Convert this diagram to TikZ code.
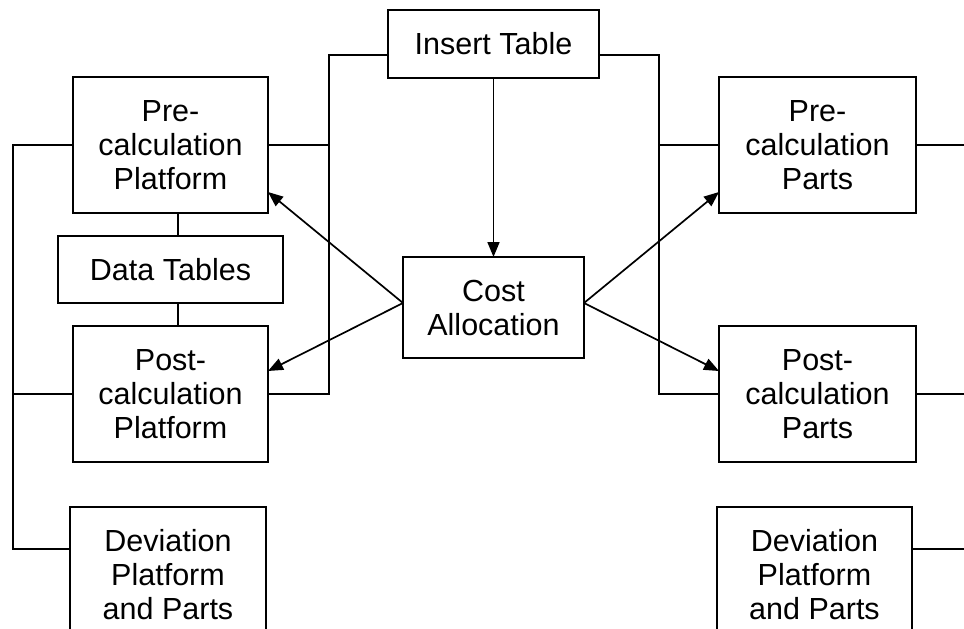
\documentclass[tikz,border=0pt]{standalone}
\usepackage{fontspec}
\setmainfont{Liberation Sans}
\usetikzlibrary{arrows.meta}
\begin{document}
\begin{tikzpicture}[x=1pt,y=-1pt,
  box/.style={draw,line width=1.7pt,inner sep=0pt,outer sep=0pt,align=center,
    font=\fontsize{30.5}{34}\selectfont},
  bigbox/.style={box,minimum width=196pt,minimum height=136pt},
  link/.style={line width=1.7pt},
  arr/.style={line width=1.7pt,-{Triangle[length=15pt,width=12pt]}}]
\clip (0,0) rectangle (964,629);
\fill[white] (0,0) rectangle (964,629);
% nodes
\node[box,minimum width=211pt,minimum height=68pt] (ins) at (493.5,44) {Insert Table};
\node[bigbox,minimum width=195pt] (preP) at (170.5,145) {Pre-\\calculation\\Platform};
\node[box,minimum width=225pt,minimum height=67pt] (data) at (170.5,269.5) {Data Tables};
\node[bigbox,minimum width=195pt] (postP) at (170.5,394) {Post-\\calculation\\Platform};
\node[bigbox] (devL) at (168,575) {Deviation\\Platform\\and Parts};
\node[box,minimum width=181pt,minimum height=101pt] (cost) at (493.5,307.5) {Cost\\Allocation};
\node[bigbox,minimum width=197pt] (preR) at (817.5,145) {Pre-\\calculation\\Parts};
\node[bigbox,minimum width=197pt] (postR) at (817.5,394) {Post-\\calculation\\Parts};
\node[bigbox,minimum width=195pt] (devR) at (814.5,575) {Deviation\\Platform\\and Parts};
% helper coordinates
\coordinate (lt) at (13,145);
\coordinate (lb) at (13,549);
\coordinate (it) at (329,55);
\coordinate (rt) at (659,55);
\coordinate (dx) at (178,0);
\coordinate (edge) at (964,0);
\coordinate (ydev) at (0,549);
\coordinate (yhi) at (0,192);
\coordinate (ylo) at (0,371);
\coordinate (ystart) at (0,303);
% left bus
\draw[link] (preP.west) -- (lt) -- (lb) -- (lb -| devL.west);
\draw[link] (postP.west) -- (postP.west -| lt);
% data tables links
\draw[link] (preP.south -| dx) -- (data.north -| dx);
\draw[link] (data.south -| dx) -- (postP.north -| dx);
% insert table buses
\draw[link] (ins.west |- it) -- (it) -- (it |- postP.east) -- (postP.east);
\draw[link] (preP.east) -- (preP.east -| it);
\draw[link] (ins.east |- rt) -- (rt) -- (rt |- postR.west) -- (postR.west);
\draw[link] (preR.west) -- (preR.west -| rt);
% right edge lines
\draw[link] (preR.east) -- (preR.east -| edge);
\draw[link] (postR.east) -- (postR.east -| edge);
\draw[link] (devR.east |- ydev) -- (ydev -| edge);
% arrows
\draw[arr] (ins.south) -- (cost.north);
\draw[arr] (cost.west |- ystart) -- (preP.east |- yhi);
\draw[arr] (cost.west |- ystart) -- (postP.east |- ylo);
\draw[arr] (cost.east |- ystart) -- (preR.west |- yhi);
\draw[arr] (cost.east |- ystart) -- (postR.west |- ylo);
\end{tikzpicture}
\end{document}
